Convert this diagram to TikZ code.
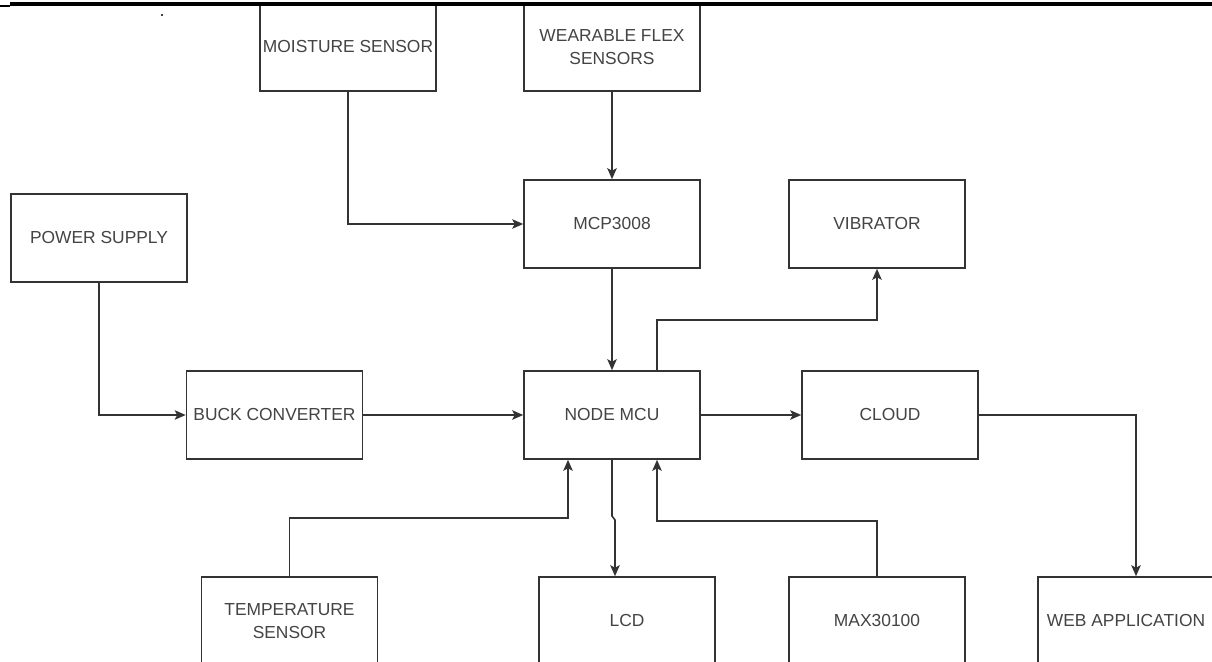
\documentclass[tikz,border=0pt]{standalone}
\usepackage{fontspec}
\setmainfont{Liberation Sans}
\usetikzlibrary{arrows.meta}
\definecolor{linec}{HTML}{333333}
\definecolor{textc}{HTML}{444444}
\begin{document}
\begin{tikzpicture}[x=1pt,y=-1pt,
  box/.style={draw=linec, line width=1.6pt, minimum width=176pt, minimum height=88pt,
    inner sep=0pt, text=textc, font=\fontsize{17.4}{23}\selectfont, align=center},
  wire/.style={draw=linec, line width=1.6pt},
  arr/.style={wire, -{Stealth[length=11pt,width=9.5pt,inset=2.5pt]}}]
\useasboundingbox (0,0) rectangle (1212,661);
\fill[white] (0,0) rectangle (1212,661);
\clip (0,0) rectangle (1212,661);

% boxes
\node[box] (moist) at (348,47) {MOISTURE SENSOR};
\node[box] (wear) at (612,47) {WEARABLE FLEX\\SENSORS};
\node[box] (pow) at (99,238) {POWER SUPPLY};
\node[box] (mcp) at (612,224) {MCP3008};
\node[box] (vib) at (877,224) {VIBRATOR};
\node[box] (buck) at (274.5,415) {BUCK CONVERTER};
\node[box] (nm) at (612,415) {NODE MCU};
\node[box] (cloud) at (890,415) {CLOUD};
\node[box] (temp) at (289.5,621) {TEMPERATURE\\SENSOR};
\node[box] (lcd) at (627,621) {LCD};
\node[box] (max) at (877,621) {MAX30100};
\node[box] (web) at (1126,621) {WEB APPLICATION};

% junction coordinates
\coordinate (vj) at (877,320);
\coordinate (tj) at (568,518);
\coordinate (mj) at (657,521);
\coordinate (lj1) at (612,516);
\coordinate (lj2) at (615,520);

% connectors
\draw[arr] (moist.south) |- (mcp.west);
\draw[arr] (wear.south) -- (mcp.north);
\draw[arr] (mcp.south) -- (nm.north);
\draw[arr] (pow.south) |- (buck.west);
\draw[arr] (buck.east) -- (nm.west);
\draw[arr] ([xshift=45pt]nm.north) |- (vj) -- (vib.south);
\draw[arr] (nm.east) -- (cloud.west);
\draw[arr] (cloud.east) -| ([xshift=10pt]web.north);
\draw[arr] (temp.north) |- (tj) -- ([xshift=-44pt]nm.south);
\draw[arr] (nm.south) -- (lj1) -- (lj2) -- ([xshift=-12pt]lcd.north);
\draw[arr] (max.north) |- (mj) -- ([xshift=45pt]nm.south);

% top rule and stray dot
\fill[black] (10,2.5) rectangle (1212,6);
\fill[black] (0,5) rectangle (10,6.7);
\fill[black] (162,15) circle (1.2pt);
\end{tikzpicture}
\end{document}
